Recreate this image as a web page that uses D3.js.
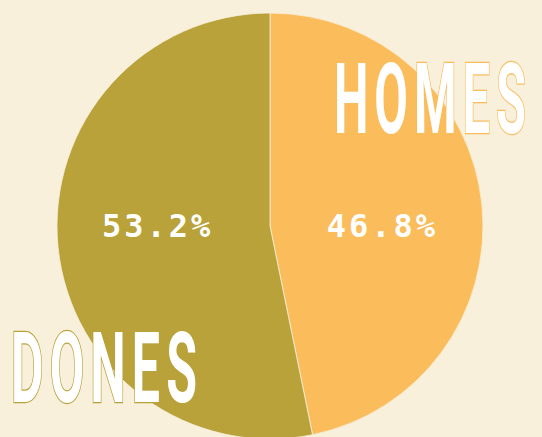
<!DOCTYPE html>
<html><head><meta charset="utf-8">
<script src="https://cdn.jsdelivr.net/npm/d3@7"></script>
<style>html,body{margin:0;padding:0;background:#F8F0DB;}svg{display:block;}</style>
</head><body>
<script>
const categories = ["HOMES", "DONES"];
const values = [46.8, 53.2];
const colors = ["#FBBC5C", "#B9A23A"];

const W = 542, H = 437;
const cx = 270, cy = 226, R = 213;
const svg = d3.select("body").append("svg").attr("width", W).attr("height", H);
const g = svg.append("g").attr("transform", `translate(${cx},${cy})`);

const pie = d3.pie().sort(null).value(d => d.v);
const arcs = pie(categories.map((c, i) => ({c, v: values[i], col: colors[i]})));
const arc = d3.arc().innerRadius(0).outerRadius(R);
const labelArc = d3.arc().innerRadius(R * 0.53).outerRadius(R * 0.53);

g.selectAll("path").data(arcs).join("path")
  .attr("d", arc).attr("fill", d => d.data.col)
  .attr("stroke", "#F8F0DB").attr("stroke-width", 0.8);

g.selectAll("text.pct").data(arcs).join("text").attr("class", "pct")
  .attr("x", d => labelArc.centroid(d)[0])
  .attr("y", 11)
  .attr("text-anchor", "middle")
  .attr("font-family", "DejaVu Sans Mono")
  .attr("font-weight", "bold")
  .attr("font-size", 32)
  .attr("letter-spacing", 3)
  .attr("fill", "#fff")
  .text(d => d.data.v.toFixed(1) + "%");

// Big category labels (condensed via horizontal scaling)
const big = [
  {t: categories[0], x: 334, y: 133, w: 192, col: colors[0]},
  {t: categories[1], x: 11, y: 402, w: 186, col: colors[1]}
];
const LS = 12;
big.forEach(d => {
  const gg = svg.append("g").attr("transform", `translate(${d.x},${d.y})`);
  const t = gg.append("text")
    .attr("x", 0).attr("y", 0)
    .attr("font-family", "Roboto").attr("font-weight", 700)
    .attr("font-size", 98)
    .attr("letter-spacing", LS)
    .attr("fill", "#fff").attr("stroke", d.col).attr("stroke-width", 2)
    .attr("vector-effect", "non-scaling-stroke")
    .attr("paint-order", "stroke")
    .text(d.t);
  const bb = t.node().getBBox();
  const natural = bb.width - LS;
  const s = d.w / natural;
  t.attr("transform", `scale(${s},1)`);
});
</script>
</body></html>
